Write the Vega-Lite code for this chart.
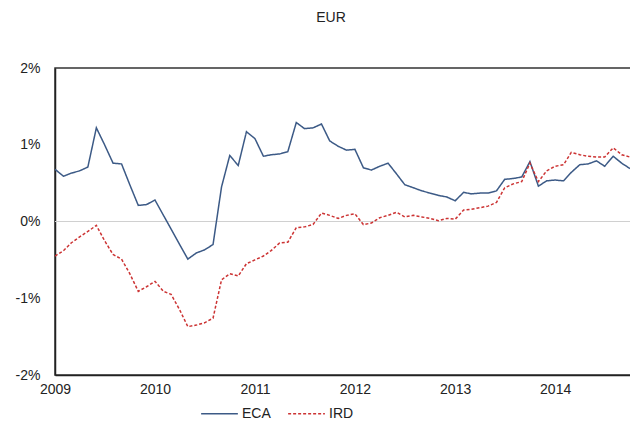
{
  "$schema": "https://vega.github.io/schema/vega-lite/v6.json",
  "width": 576,
  "height": 307,
  "autosize": {"type": "none"},
  "padding": {"left": 55, "top": 68, "right": 0, "bottom": 57},
  "background": "white",
  "config": {
    "font": "Liberation Sans",
    "view": {"stroke": "#333333", "strokeWidth": 1.5}
  },
  "title": {"text": "EUR", "fontSize": 14, "fontWeight": "normal", "color": "#222222", "offset": 36, "dx": -12, "anchor": "middle"},
  "datasets": {
    "series": [
      {"date": "2009-01-01", "ECA": 0.68, "IRD": -0.45},
      {"date": "2009-02-01", "ECA": 0.59, "IRD": -0.38},
      {"date": "2009-03-01", "ECA": 0.63, "IRD": -0.28},
      {"date": "2009-04-01", "ECA": 0.66, "IRD": -0.2},
      {"date": "2009-05-01", "ECA": 0.71, "IRD": -0.13},
      {"date": "2009-06-01", "ECA": 1.22, "IRD": -0.05},
      {"date": "2009-07-01", "ECA": 1.0, "IRD": -0.25},
      {"date": "2009-08-01", "ECA": 0.76, "IRD": -0.43},
      {"date": "2009-09-01", "ECA": 0.75, "IRD": -0.49},
      {"date": "2009-10-01", "ECA": 0.48, "IRD": -0.68},
      {"date": "2009-11-01", "ECA": 0.21, "IRD": -0.91},
      {"date": "2009-12-01", "ECA": 0.22, "IRD": -0.85},
      {"date": "2010-01-01", "ECA": 0.28, "IRD": -0.78},
      {"date": "2010-02-01", "ECA": 0.08, "IRD": -0.91},
      {"date": "2010-03-01", "ECA": -0.1, "IRD": -0.95},
      {"date": "2010-04-01", "ECA": -0.3, "IRD": -1.15},
      {"date": "2010-05-01", "ECA": -0.49, "IRD": -1.37},
      {"date": "2010-06-01", "ECA": -0.41, "IRD": -1.35},
      {"date": "2010-07-01", "ECA": -0.37, "IRD": -1.32},
      {"date": "2010-08-01", "ECA": -0.3, "IRD": -1.26},
      {"date": "2010-09-01", "ECA": 0.45, "IRD": -0.76},
      {"date": "2010-10-01", "ECA": 0.86, "IRD": -0.68},
      {"date": "2010-11-01", "ECA": 0.73, "IRD": -0.71},
      {"date": "2010-12-01", "ECA": 1.17, "IRD": -0.55},
      {"date": "2011-01-01", "ECA": 1.08, "IRD": -0.5},
      {"date": "2011-02-01", "ECA": 0.85, "IRD": -0.45},
      {"date": "2011-03-01", "ECA": 0.87, "IRD": -0.38},
      {"date": "2011-04-01", "ECA": 0.88, "IRD": -0.28},
      {"date": "2011-05-01", "ECA": 0.91, "IRD": -0.27},
      {"date": "2011-06-01", "ECA": 1.29, "IRD": -0.08},
      {"date": "2011-07-01", "ECA": 1.21, "IRD": -0.07},
      {"date": "2011-08-01", "ECA": 1.22, "IRD": -0.04},
      {"date": "2011-09-01", "ECA": 1.27, "IRD": 0.11},
      {"date": "2011-10-01", "ECA": 1.05, "IRD": 0.08},
      {"date": "2011-11-01", "ECA": 0.98, "IRD": 0.04},
      {"date": "2011-12-01", "ECA": 0.93, "IRD": 0.08},
      {"date": "2012-01-01", "ECA": 0.94, "IRD": 0.1},
      {"date": "2012-02-01", "ECA": 0.7, "IRD": -0.04},
      {"date": "2012-03-01", "ECA": 0.67, "IRD": -0.02},
      {"date": "2012-04-01", "ECA": 0.72, "IRD": 0.05},
      {"date": "2012-05-01", "ECA": 0.76, "IRD": 0.08},
      {"date": "2012-06-01", "ECA": 0.62, "IRD": 0.12},
      {"date": "2012-07-01", "ECA": 0.48, "IRD": 0.06},
      {"date": "2012-08-01", "ECA": 0.44, "IRD": 0.08},
      {"date": "2012-09-01", "ECA": 0.4, "IRD": 0.06},
      {"date": "2012-10-01", "ECA": 0.37, "IRD": 0.04},
      {"date": "2012-11-01", "ECA": 0.34, "IRD": 0.01},
      {"date": "2012-12-01", "ECA": 0.32, "IRD": 0.04},
      {"date": "2013-01-01", "ECA": 0.27, "IRD": 0.03},
      {"date": "2013-02-01", "ECA": 0.38, "IRD": 0.15},
      {"date": "2013-03-01", "ECA": 0.36, "IRD": 0.16},
      {"date": "2013-04-01", "ECA": 0.37, "IRD": 0.18},
      {"date": "2013-05-01", "ECA": 0.37, "IRD": 0.2},
      {"date": "2013-06-01", "ECA": 0.4, "IRD": 0.25},
      {"date": "2013-07-01", "ECA": 0.55, "IRD": 0.44},
      {"date": "2013-08-01", "ECA": 0.56, "IRD": 0.49},
      {"date": "2013-09-01", "ECA": 0.58, "IRD": 0.52},
      {"date": "2013-10-01", "ECA": 0.78, "IRD": 0.76},
      {"date": "2013-11-01", "ECA": 0.46, "IRD": 0.52},
      {"date": "2013-12-01", "ECA": 0.53, "IRD": 0.66},
      {"date": "2014-01-01", "ECA": 0.54, "IRD": 0.72},
      {"date": "2014-02-01", "ECA": 0.53, "IRD": 0.74},
      {"date": "2014-03-01", "ECA": 0.64, "IRD": 0.9},
      {"date": "2014-04-01", "ECA": 0.74, "IRD": 0.87},
      {"date": "2014-05-01", "ECA": 0.75, "IRD": 0.85},
      {"date": "2014-06-01", "ECA": 0.79, "IRD": 0.84},
      {"date": "2014-07-01", "ECA": 0.72, "IRD": 0.84},
      {"date": "2014-08-01", "ECA": 0.85, "IRD": 0.96},
      {"date": "2014-09-01", "ECA": 0.76, "IRD": 0.87},
      {"date": "2014-10-01", "ECA": 0.69, "IRD": 0.84}
    ],
    "zero": [{"y": 0}]
  },
  "layer": [
    {
      "data": {"name": "zero"},
      "mark": {"type": "rule", "color": "#d0d0d0", "strokeWidth": 1.2},
      "encoding": {"y": {"field": "y", "type": "quantitative"}}
    },
    {
      "data": {"name": "series"},
      "transform": [{"fold": ["ECA", "IRD"], "as": ["series", "value"]}],
      "mark": {"type": "line", "strokeWidth": 1.5, "clip": true},
      "encoding": {
        "x": {
          "field": "date", "type": "temporal",
          "scale": {"domain": ["2009-01-01", "2014-10-05"]},
          "axis": {
            "title": null,
            "values": ["2009-01-01", "2010-01-01", "2011-01-01", "2012-01-01", "2013-01-01", "2014-01-01"],
            "format": "%Y",
            "grid": false,
            "ticks": false,
            "domainColor": "#222222",
            "domainWidth": 1.5,
            "labelFontSize": 14,
            "labelColor": "#222222",
            "labelPadding": 7,
            "labelFlush": false
          }
        },
        "y": {
          "field": "value", "type": "quantitative",
          "scale": {"domain": [-2, 2], "nice": false},
          "axis": {
            "title": null,
            "values": [-2, -1, 0, 1, 2],
            "labelExpr": "datum.value + '%'",
            "grid": false,
            "ticks": false,
            "domainColor": "#222222",
            "domainWidth": 1.5,
            "labelFontSize": 14,
            "labelColor": "#222222",
            "labelPadding": 15
          }
        },
        "color": {
          "field": "series", "type": "nominal",
          "scale": {"domain": ["ECA", "IRD"], "range": ["#3C5A86", "#CC3333"]},
          "legend": {
            "title": null,
            "orient": "none",
            "legendX": 145,
            "legendY": 326,
            "direction": "horizontal",
            "symbolType": "stroke",
            "symbolSize": 1350,
            "symbolStrokeWidth": 1.5,
            "labelFontSize": 14,
            "labelColor": "#222222",
            "columnPadding": 14,
            "labelOffset": 3
          }
        },
        "strokeDash": {
          "field": "series", "type": "nominal",
          "scale": {"domain": ["ECA", "IRD"], "range": [[1, 0], [3, 2]]},
          "legend": {
            "title": null,
            "orient": "none",
            "legendX": 145,
            "legendY": 326,
            "direction": "horizontal",
            "symbolType": "stroke",
            "symbolSize": 1350,
            "symbolStrokeWidth": 1.5,
            "labelFontSize": 14,
            "labelColor": "#222222",
            "columnPadding": 14,
            "labelOffset": 3
          }
        }
      }
    }
  ]
}
